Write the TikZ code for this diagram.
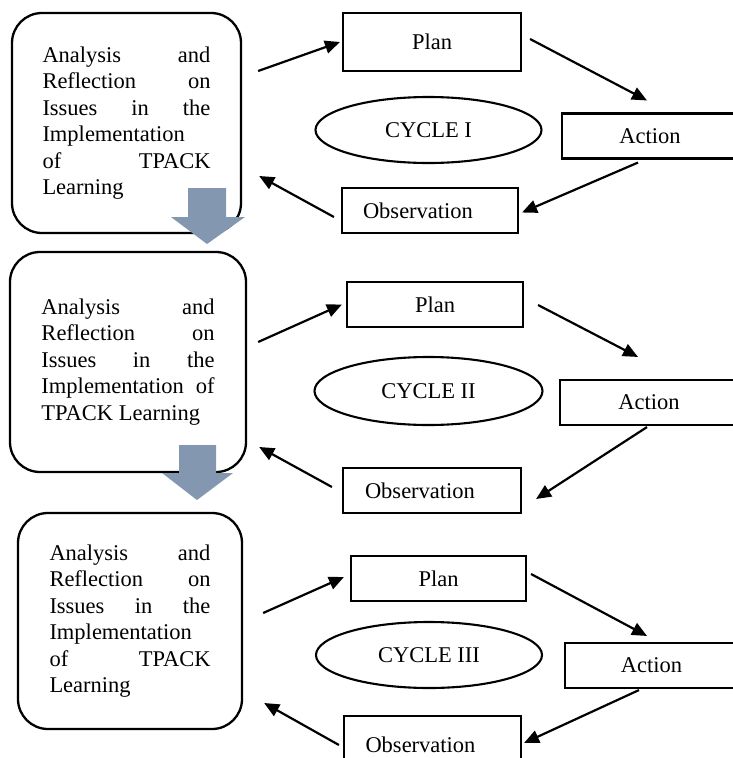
\documentclass[tikz,border=0pt]{standalone}
\usepackage{fontspec}
\setmainfont{Liberation Serif}
\usetikzlibrary{shapes.geometric,arrows.meta}
\definecolor{blockblue}{RGB}{132,151,176}
\tikzset{
  issue/.style={draw,line width=2.3pt,rounded corners=30pt,align=justify,inner sep=0pt},
  stage/.style={draw,line width=2.1pt,minimum height=45pt,inner sep=0pt},
  cyclelabel/.style={draw,ellipse,line width=2.1pt,inner sep=0pt},
  flow/.style={line width=2.2pt,-{Triangle[length=15pt,width=13pt]}},
  blockarrow/.style={fill=blockblue}
}
\begin{document}
\begin{tikzpicture}[x=1pt,y=-1pt,font=\fontsize{22.5}{26.5}\selectfont]
\useasboundingbox (0,0) rectangle (732,758);
% cycle I
\node[issue,text width=168pt,minimum width=229pt,minimum height=220pt] (box1) at (126.5,123)
  {Analysis\hfill and\\Reflection\hfill on\\Issues\hfill in\hfill the\\Implementation\\of\hfill TPACK\\Learning};
\node[stage,minimum width=178pt,minimum height=58pt] (plan1) at (432,42) {Plan};
\node[cyclelabel,minimum width=226pt,minimum height=66pt] (cyc1) at (428.5,130) {CYCLE I};
\node[stage,minimum width=176pt,anchor=west] (act1) at (561,136) {Action};
\node[stage,minimum width=176pt,text width=134pt,align=left] (obs1) at (430,210.5) {Observation};
\draw[flow] ([shift={(16,-52)}]box1.east) -- ([shift={(-2,0)}]plan1.west);
\draw[flow] ([shift={(8,-3)}]plan1.east) -- ([shift={(86,-12)}]act1.north west);
\draw[flow] ([shift={(77,3)}]act1.south west) -- ([shift={(3,2)}]obs1.east);
\draw[flow] ([shift={(-7,6.5)}]obs1.west) -- ([shift={(17,53)}]box1.east);
% cycle II
\node[issue,text width=173pt,minimum width=236pt,minimum height=220pt] (box2) at (128,362)
  {Analysis\hfill and\\Reflection\hfill on\\Issues\hfill in\hfill the\\Implementation\hfill of\\TPACK Learning};
\node[stage,minimum width=176pt] (plan2) at (435,304.5) {Plan};
\node[cyclelabel,minimum width=228pt,minimum height=68pt] (cyc2) at (428.5,391) {CYCLE II};
\node[stage,minimum width=178pt,anchor=west] (act2) at (559,402.5) {Action};
\node[stage,minimum width=178pt,text width=134pt,align=left] (obs2) at (432,490.5) {Observation};
\draw[flow] ([shift={(11,-20)}]box2.east) -- ([shift={(-4,0)}]plan2.west);
\draw[flow] ([shift={(14,0.5)}]plan2.east) -- ([shift={(79,-22)}]act2.north west);
\draw[flow] ([shift={(88,1)}]act2.south west) -- ([shift={(14,8.5)}]obs2.east);
\draw[flow] ([shift={(-10,-3.5)}]obs2.west) -- ([shift={(12,85)}]box2.east);
% cycle III
\node[issue,text width=161pt,minimum width=224pt,minimum height=216pt] (box3) at (130,621)
  {Analysis\hfill and\\Reflection\hfill on\\Issues\hfill in\hfill the\\Implementation\\of\hfill TPACK\\Learning};
\node[stage,minimum width=175pt] (plan3) at (438.5,578.5) {Plan};
\node[cyclelabel,minimum width=226pt,minimum height=66pt] (cyc3) at (429,655) {CYCLE III};
\node[stage,minimum width=173pt,anchor=west] (act3) at (564,665.5) {Action};
\node[stage,minimum width=177pt,minimum height=58pt,text width=134pt,align=left] (obs3) at (432.5,745) {Observation};
\draw[flow] ([shift={(20,-8)}]box3.east) -- ([shift={(-6,-1.5)}]plan3.west);
\draw[flow] ([shift={(4,-4.5)}]plan3.east) -- ([shift={(83,-6)}]act3.north west);
\draw[flow] ([shift={(75,1)}]act3.south west) -- ([shift={(2,-2)}]obs3.east);
\draw[flow] ([shift={(-4,0)}]obs3.west) -- ([shift={(21,82)}]box3.east);
% block arrows
\fill[blockarrow] (188,188) -- (226,188) -- (226,217) -- (245,217) -- (207,244) -- (171,217) -- (188,217) -- cycle;
\fill[blockarrow] (179,445) -- (216,445) -- (216,473) -- (233,473) -- (197,500) -- (162,473) -- (179,473) -- cycle;
\end{tikzpicture}
\end{document}
